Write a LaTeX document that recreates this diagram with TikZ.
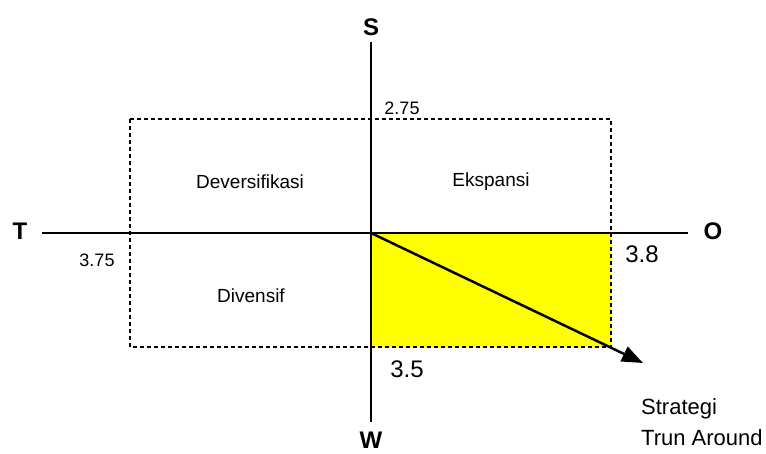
\documentclass[tikz,border=0pt]{standalone}
\usepackage{fontspec}
\setmainfont{Liberation Sans}
\usetikzlibrary{arrows.meta}
\definecolor{quadyellow}{RGB}{255,255,0}

\begin{document}
\begin{tikzpicture}[x=1pt,y=-1pt,
  axis/.style={line width=1.6pt},
  axlabel/.style={font=\fontsize{24}{26}\selectfont\bfseries,inner sep=0pt},
  quad/.style={font=\fontsize{19}{21}\selectfont,inner sep=0pt},
  val/.style={font=\fontsize{18}{20}\selectfont,inner sep=0pt},
  bigval/.style={font=\fontsize{24}{26}\selectfont,inner sep=0pt},
  note/.style={font=\fontsize{22}{24}\selectfont,inner sep=0pt,anchor=west}]
\useasboundingbox (0,0) rectangle (766,454);
% axis end points
\coordinate (o) at (371,233);
\coordinate (n) at (371,42);
\coordinate (s) at (371,422);
\coordinate (w) at (42,233);
\coordinate (e) at (688,233);
\coordinate (tip) at (643,363);
% quadrant boxes
\fill[quadyellow] (371,233) rectangle (611,347);
\draw[line width=1.4pt,dash pattern=on 4pt off 3pt] (130,119) rectangle (611,347);
\draw[axis] (n) -- (s);
\draw[axis] (w) -- (e);
\draw[line width=2.5pt,-{Triangle[length=21pt,width=16pt]}] (o) -- (tip);
% labels
\node[axlabel] (S) at (371,27) {S};
\node[axlabel] (W) at (371,440) {W};
\node[axlabel] (T) at (20,231) {T};
\node[axlabel] (O) at (713,231) {O};
\node[quad] (dev) at (250,182) {Deversifikasi};
\node[quad] (eks) at (491,182) {Ekspansi};
\node[quad] (div) at (251,296) {Divensif};
\node[val] (v275) at (402,108) {2.75};
\node[val] (v375) at (97,260) {3.75};
\node[bigval] (v38) at (642,254) {3.8};
\node[bigval] (v35) at (407,369) {3.5};
\node[note] (str) at (641,409) {Strategi};
\node[note] (tra) at (641,438) {Trun Around};
\end{tikzpicture}
\end{document}
